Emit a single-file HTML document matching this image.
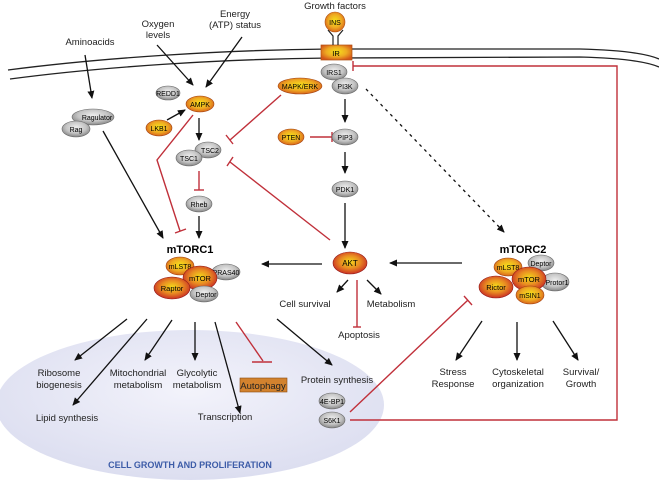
<!DOCTYPE html>
<html><head><meta charset="utf-8"><style>body{margin:0;background:#fff}svg{display:block}text{font-family:"Liberation Sans",sans-serif}</style></head><body>
<svg width="659" height="483" viewBox="0 0 659 483" xmlns="http://www.w3.org/2000/svg">
<defs>
<radialGradient id="og" cx="50%" cy="45%" r="60%"><stop offset="0" stop-color="#f6e21a"/><stop offset="0.55" stop-color="#eeaa22"/><stop offset="1" stop-color="#d4561a"/></radialGradient>
<radialGradient id="rg" cx="50%" cy="45%" r="60%"><stop offset="0" stop-color="#f4d81a"/><stop offset="0.5" stop-color="#e88a22"/><stop offset="1" stop-color="#c41e24"/></radialGradient>
<radialGradient id="gg" cx="50%" cy="40%" r="60%"><stop offset="0" stop-color="#eeeeee"/><stop offset="0.6" stop-color="#c4c4c4"/><stop offset="1" stop-color="#858585"/></radialGradient>
<radialGradient id="bg" cx="50%" cy="40%" r="60%"><stop offset="0" stop-color="#f3f3fb"/><stop offset="1" stop-color="#dcdef0"/></radialGradient>
<marker id="ar" markerWidth="8" markerHeight="8" refX="7" refY="4" orient="auto" markerUnits="userSpaceOnUse"><path d="M0,0.5 L8,4 L0,7.5 Z" fill="#111"/></marker>
</defs>
<ellipse cx="190" cy="405" rx="194" ry="75" fill="url(#bg)"/>
<!-- membrane -->
<path d="M8,70 C100,58 220,50 330,49 L580,49 C620,50 645,53 659,59" fill="none" stroke="#222" stroke-width="1.3"/>
<path d="M10,79 C100,67 220,59 330,58 L580,57 C620,58 645,61 659,67" fill="none" stroke="#222" stroke-width="1.3"/>
<rect x="321" y="45" width="31" height="15" fill="url(#og)" stroke="#b05010" stroke-width="0.7"/>
<text x="336" y="56" font-size="7.5" text-anchor="middle">IR</text>
<path d="M333,45 V36 L328,30 M338,45 V36 L343,30" fill="none" stroke="#222" stroke-width="1.2"/>
<circle cx="335" cy="22" r="10" fill="url(#og)" stroke="#b05010" stroke-width="0.6"/>
<text x="335" y="25" font-size="7" text-anchor="middle">INS</text>
<g font-size="9.5" text-anchor="middle" fill="#222">
<text x="335" y="9">Growth factors</text>
<text x="90" y="45">Aminoacids</text>
<text x="158" y="27">Oxygen</text><text x="158" y="38">levels</text>
<text x="235" y="17">Energy</text><text x="235" y="28">(ATP) status</text>
<text x="305" y="307">Cell survival</text><text x="391" y="307">Metabolism</text><text x="359" y="338">Apoptosis</text>
<text x="59" y="376">Ribosome</text><text x="59" y="388">biogenesis</text>
<text x="67" y="421">Lipid synthesis</text>
<text x="138" y="376">Mitochondrial</text><text x="138" y="388">metabolism</text>
<text x="197" y="376">Glycolytic</text><text x="197" y="388">metabolism</text>
<text x="225" y="420">Transcription</text>
<text x="337" y="383">Protein synthesis</text>
<text x="453" y="375">Stress</text><text x="453" y="387">Response</text>
<text x="518" y="375">Cytoskeletal</text><text x="518" y="387">organization</text>
<text x="581" y="375">Survival/</text><text x="581" y="387">Growth</text>
</g>
<text x="190" y="253" font-size="11" font-weight="bold" text-anchor="middle">mTORC1</text>
<text x="523" y="253" font-size="11" font-weight="bold" text-anchor="middle">mTORC2</text>
<text x="190" y="468" font-size="9" font-weight="bold" text-anchor="middle" fill="#3d5ca8">CELL GROWTH AND PROLIFERATION</text>
<rect x="240" y="378" width="47" height="14" fill="#d2822e" stroke="#8a4a10" stroke-width="0.6"/>
<text x="263" y="389" font-size="9.5" text-anchor="middle" fill="#222">Autophagy</text>
<!-- black arrows -->
<g stroke="#111" stroke-width="1.3" fill="none" marker-end="url(#ar)">
<line x1="85" y1="55" x2="92" y2="98"/>
<line x1="157" y1="45" x2="193" y2="85"/>
<line x1="242" y1="37" x2="206" y2="87"/>
<line x1="167" y1="120" x2="185" y2="110"/>
<line x1="199" y1="118" x2="199" y2="140"/>
<line x1="199" y1="216" x2="199" y2="238"/>
<line x1="103" y1="131" x2="163" y2="238"/>
<line x1="345" y1="99" x2="345" y2="122"/>
<line x1="345" y1="152" x2="345" y2="173"/>
<line x1="345" y1="203" x2="345" y2="248"/>
<line x1="366" y1="89" x2="504" y2="232" stroke-dasharray="3,4"/>
<line x1="322" y1="264" x2="262" y2="264"/>
<line x1="462" y1="263" x2="390" y2="263"/>
<line x1="348" y1="280" x2="337" y2="292"/>
<line x1="367" y1="280" x2="381" y2="294"/>
<line x1="127" y1="319" x2="75" y2="360"/>
<line x1="147" y1="319" x2="73" y2="405"/>
<line x1="172" y1="320" x2="145" y2="360"/>
<line x1="195" y1="322" x2="195" y2="360"/>
<line x1="215" y1="322" x2="240" y2="413"/>
<line x1="277" y1="319" x2="332" y2="365"/>
<line x1="482" y1="321" x2="456" y2="360"/>
<line x1="517" y1="322" x2="517" y2="360"/>
<line x1="553" y1="321" x2="578" y2="360"/>
</g>
<!-- red inhibitions -->
<g stroke="#c0303a" stroke-width="1.4" fill="none">
<polyline points="193,115 157,160 180,231"/><line x1="175" y1="233" x2="186" y2="229"/>
<line x1="281" y1="95" x2="230" y2="140"/><line x1="226" y1="135" x2="233" y2="144"/>
<line x1="310" y1="137" x2="332" y2="137"/><line x1="332" y1="132" x2="332" y2="142"/>
<line x1="330" y1="240" x2="230" y2="162"/><line x1="233" y1="157" x2="227" y2="166"/>
<line x1="199" y1="171" x2="199" y2="190"/><line x1="194" y1="190" x2="204" y2="190"/>
<line x1="236" y1="322" x2="263" y2="361"/><line x1="252" y1="362" x2="272" y2="362"/>
<line x1="357" y1="280" x2="357" y2="327"/><line x1="353" y1="327" x2="361" y2="327"/>
<line x1="350" y1="412" x2="468" y2="300"/><line x1="464" y1="296" x2="472" y2="305"/>
<polyline points="350,420 617,420 617,66 353,66"/><line x1="353" y1="61" x2="353" y2="71"/>
</g>
<!-- nodes -->
<g font-size="7" text-anchor="middle" stroke-width="0.6">
<ellipse cx="168" cy="93" rx="12" ry="7" fill="url(#gg)" stroke="#666"/><text x="168" y="96">REDD1</text>
<ellipse cx="200" cy="104" rx="14" ry="8" fill="url(#og)" stroke="#a04010"/><text x="200" y="107">AMPK</text>
<ellipse cx="159" cy="128" rx="13" ry="8" fill="url(#og)" stroke="#a04010"/><text x="159" y="131">LKB1</text>
<ellipse cx="93" cy="117" rx="21" ry="8" fill="url(#gg)" stroke="#666"/><text x="97" y="120">Ragulator</text>
<ellipse cx="76" cy="129" rx="14" ry="8" fill="url(#gg)" stroke="#666"/><text x="76" y="132">Rag</text>
<ellipse cx="208" cy="150" rx="13" ry="8" fill="url(#gg)" stroke="#666"/><text x="210" y="153">TSC2</text>
<ellipse cx="189" cy="158" rx="13" ry="8" fill="url(#gg)" stroke="#666"/><text x="189" y="161">TSC1</text>
<ellipse cx="199" cy="204" rx="13" ry="8" fill="url(#gg)" stroke="#666"/><text x="199" y="207">Rheb</text>
<ellipse cx="300" cy="86" rx="22" ry="8" fill="url(#og)" stroke="#a04010"/><text x="300" y="89">MAPK/ERK</text>
<ellipse cx="291" cy="137" rx="13" ry="8" fill="url(#og)" stroke="#a04010"/><text x="291" y="140">PTEN</text>
<ellipse cx="334" cy="72" rx="13" ry="8" fill="url(#gg)" stroke="#666"/><text x="334" y="75">IRS1</text>
<ellipse cx="345" cy="86" rx="13" ry="8" fill="url(#gg)" stroke="#666"/><text x="345" y="89">PI3K</text>
<ellipse cx="345" cy="137" rx="13" ry="8" fill="url(#gg)" stroke="#666"/><text x="345" y="140">PIP3</text>
<ellipse cx="345" cy="189" rx="13" ry="8" fill="url(#gg)" stroke="#666"/><text x="345" y="192">PDK1</text>
<ellipse cx="350" cy="263" rx="17" ry="11" fill="url(#rg)" stroke="#901818"/><text x="350" y="266" font-size="8">AKT</text>
<ellipse cx="226" cy="272" rx="14" ry="8" fill="url(#gg)" stroke="#666"/><text x="226" y="275">PRAS40</text>
<ellipse cx="180" cy="266" rx="14" ry="9" fill="url(#og)" stroke="#a04010"/><text x="180" y="269">mLST8</text>
<ellipse cx="200" cy="278" rx="17" ry="12" fill="url(#rg)" stroke="#901818"/><text x="200" y="281" font-size="7.5">mTOR</text>
<ellipse cx="204" cy="294" rx="14" ry="8" fill="url(#gg)" stroke="#666"/><text x="206" y="297">Deptor</text>
<ellipse cx="172" cy="288" rx="18" ry="11" fill="url(#rg)" stroke="#901818"/><text x="172" y="291" font-size="7.5">Raptor</text>
<ellipse cx="541" cy="263" rx="13" ry="8" fill="url(#gg)" stroke="#666"/><text x="541" y="266">Deptor</text>
<ellipse cx="508" cy="267" rx="14" ry="9" fill="url(#og)" stroke="#a04010"/><text x="508" y="270">mLST8</text>
<ellipse cx="555" cy="282" rx="14" ry="9" fill="url(#gg)" stroke="#666"/><text x="557" y="285">Protor1</text>
<ellipse cx="529" cy="279" rx="17" ry="12" fill="url(#rg)" stroke="#901818"/><text x="529" y="282" font-size="7.5">mTOR</text>
<ellipse cx="530" cy="295" rx="14" ry="9" fill="url(#og)" stroke="#a04010"/><text x="530" y="298">mSIN1</text>
<ellipse cx="496" cy="287" rx="17" ry="11" fill="url(#rg)" stroke="#901818"/><text x="496" y="290" font-size="7.5">Rictor</text>
<ellipse cx="332" cy="401" rx="13" ry="8" fill="url(#gg)" stroke="#666"/><text x="332" y="404">4E-BP1</text>
<ellipse cx="332" cy="420" rx="13" ry="8" fill="url(#gg)" stroke="#666"/><text x="332" y="423">S6K1</text>
</g>
</svg>
</body></html>
